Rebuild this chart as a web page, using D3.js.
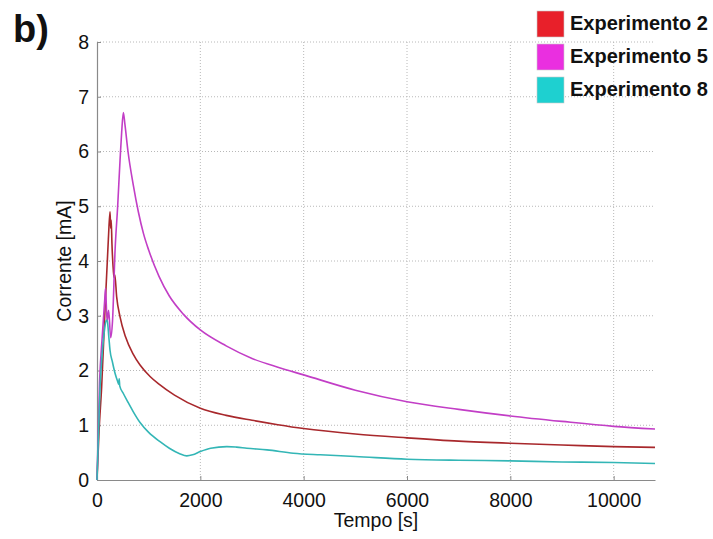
<!DOCTYPE html>
<html><head><meta charset="utf-8">
<script src="https://cdn.jsdelivr.net/npm/d3@7"></script>
<style>body{margin:0;background:#fff;} svg{display:block;}</style>
</head><body>
<svg id="chart" width="713" height="539"></svg>
<script>
const xTicks = [0, 2000, 4000, 6000, 8000, 10000];
const yTicks = [0, 1, 2, 3, 4, 5, 6, 7, 8];
const seriesNames = ["Experimento 2", "Experimento 5", "Experimento 8"];
const lineColors = ["#a8282c", "#c23ec6", "#33b6b6"];
const legendColors = ["#e8202a", "#ea2fe0", "#1ed0d0"];

// Experimento 2 [time s, current mA]
const exp2 = [[0,0],[40,0.9],[90,1.7],[150,3.0],[220,4.4],[252,4.9],[265,4.6],[275,4.75],[290,4.3],[316,3.83],[330,3.7],[345,3.75],[380,3.35],[446,2.98],[550,2.62],[700,2.3],[833,2.1],[1027,1.89],[1200,1.75],[1500,1.55],[2000,1.31],[2500,1.18],[3000,1.09],[3500,1.01],[4000,0.94],[5000,0.84],[6000,0.77],[7000,0.71],[8000,0.67],[9000,0.64],[10000,0.61],[10800,0.595]];
// Experimento 5
const exp5 = [[0,0],[50,1.8],[100,2.6],[150,3.3],[165,3.5],[195,2.9],[225,3.1],[265,2.6],[300,2.9],[350,4.2],[400,5.0],[446,5.84],[478,6.36],[510,6.71],[540,6.5],[600,6.0],[700,5.4],[800,4.9],[900,4.5],[1000,4.2],[1200,3.72],[1400,3.36],[1670,3.03],[2000,2.74],[2500,2.45],[3000,2.22],[3500,2.06],[4000,1.92],[5000,1.64],[6000,1.43],[7000,1.29],[8000,1.17],[9000,1.07],[10000,0.98],[10800,0.93]];
// Experimento 8
const exp8 = [[0,0],[30,0.9],[60,1.7],[100,2.3],[140,2.7],[180,2.92],[200,2.9],[230,2.6],[252,2.37],[300,2.15],[349,1.95],[400,1.8],[420,1.75],[430,1.85],[440,1.72],[510,1.58],[600,1.42],[700,1.25],[833,1.05],[1000,0.87],[1220,0.70],[1400,0.58],[1600,0.48],[1738,0.44],[1850,0.46],[2000,0.52],[2200,0.58],[2513,0.61],[2700,0.60],[2900,0.58],[3290,0.55],[3800,0.49],[4320,0.46],[5000,0.43],[6000,0.38],[7000,0.36],[8000,0.35],[9000,0.33],[10000,0.32],[10800,0.30]];
const seriesData = [exp2, exp5, exp8];

const svg = d3.select("#chart");
const L = 97, R = 655, T = 42, B = 480;
const x = d3.scaleLinear().domain([0, 10800]).range([L, R]);
const y = d3.scaleLinear().domain([0, 8]).range([B, T]);
const font = "Liberation Sans, Arial, sans-serif";

// grid
const g = svg.append("g");
g.selectAll(".gx").data(xTicks.filter(d => d > 0)).enter().append("line")
  .attr("x1", d => x(d)).attr("x2", d => x(d)).attr("y1", T).attr("y2", B)
  .attr("stroke", "#b8b8b8").attr("stroke-width", 1).attr("stroke-dasharray", "1,2");
g.selectAll(".gy").data(yTicks.filter(d => d > 0)).enter().append("line")
  .attr("x1", L).attr("x2", R).attr("y1", d => y(d)).attr("y2", d => y(d))
  .attr("stroke", "#b8b8b8").attr("stroke-width", 1).attr("stroke-dasharray", "1,2");

// axes
const xAxis = d3.axisBottom(x).tickValues(xTicks).tickFormat(d3.format("d")).tickSizeInner(-4).tickSizeOuter(0).tickPadding(10);
const yAxis = d3.axisLeft(y).tickValues(yTicks).tickFormat(d3.format("d")).tickSizeInner(-4).tickSizeOuter(0).tickPadding(8);
const gx = svg.append("g").attr("transform", `translate(0,${B})`).call(xAxis);
const gy = svg.append("g").attr("transform", `translate(${L},0)`).call(yAxis);
[gx, gy].forEach(a => {
  a.select(".domain").attr("stroke", "#8a8a8a").attr("stroke-width", 1.2);
  a.selectAll(".tick line").attr("stroke", "#8a8a8a");
  a.selectAll(".tick text").attr("font-family", font).attr("font-size", 19.5).attr("fill", "#111");
});
gx.selectAll(".tick text").attr("dy", "0.85em");

// lines
const line = d3.line().x(d => x(d[0])).y(d => y(d[1])).curve(d3.curveMonotoneX);
svg.append("g").selectAll("path").data(seriesData).enter().append("path")
  .attr("d", line).attr("fill", "none")
  .attr("stroke", (d, i) => lineColors[i]).attr("stroke-width", 1.6)
  .attr("stroke-linejoin", "round");

// labels
svg.append("text").attr("x", (L + R) / 2).attr("y", 527).attr("text-anchor", "middle")
  .attr("font-family", font).attr("font-size", 19.5).attr("fill", "#111").text("Tempo [s]");
svg.append("text").attr("transform", `translate(71,${(T + B) / 2}) rotate(-90)`)
  .attr("text-anchor", "middle").attr("font-family", font).attr("font-size", 19.5).attr("fill", "#111")
  .text("Corrente [mA]");
svg.append("text").attr("x", 13).attr("y", 42).attr("font-family", font).attr("font-weight", "bold")
  .attr("font-size", 38).attr("fill", "#111").text("b)");

// legend
const lg = svg.append("g");
const ly = d3.scaleBand().domain(seriesNames).range([11, 110]);
seriesNames.forEach((n, i) => {
  lg.append("rect").attr("x", 537).attr("y", ly(n)).attr("width", 27).attr("height", 26)
    .attr("fill", legendColors[i]).attr("stroke", "#c8c8c8").attr("stroke-width", 0.6);
  lg.append("text").attr("x", 570).attr("y", ly(n) + 19).attr("font-family", font)
    .attr("font-weight", "bold").attr("font-size", 20).attr("fill", "#111").text(n);
});
</script>
</body></html>
